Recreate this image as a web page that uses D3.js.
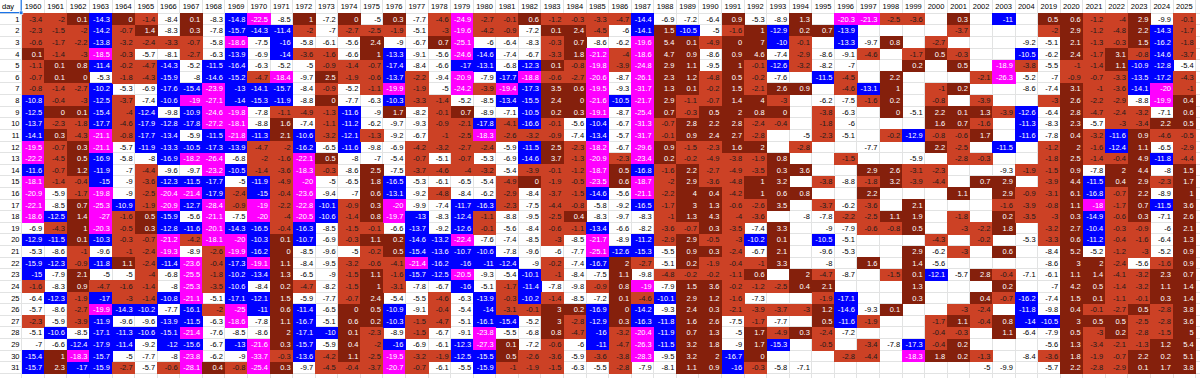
<!DOCTYPE html>
<html><head><meta charset="utf-8">
<script src="https://cdn.jsdelivr.net/npm/d3@7"></script>
<style>html,body{margin:0;padding:0;background:#fff;overflow:hidden}</style>
</head><body><svg id="c" width="1200" height="378"></svg>
<script>
const years = ["1960","1961","1962","1963","1964","1965","1966","1967","1968","1969","1970","1971","1972","1973","1974","1975","1976","1977","1978","1979","1980","1981","1982","1983","1984","1985","1986","1987","1988","1989","1990","1991","1992","1993","1994","1995","1996","1997","1998","1999","2000","2001","2002","2003","2004","2019","2020","2021","2022","2023","2024","2025"];
const days = [1,2,3,4,5,6,7,8,9,10,11,12,13,14,15,16,17,18,19,20,21,22,23,24,25,26,27,28,29,30,31];

const v1960 = [-3.4,-2.3,-0.6,0.1,-1.1,-0.7,-0.8,-10.8,-12.5,-13.7,-14.1,-19.5,-22.2,-11.6,-18.1,-20.9,-22.1,-18.6,-6.9,-12.9,-5.3,-15.9,-15,-1.6,-6.4,-5.7,-2.3,-5.1,-7,-15.4,-15.7];
const v1961 = [-2,-1.5,-1.7,-1.4,0.1,0.1,-1.4,-0.4,0,-2.3,0.3,-0.7,-4.5,-0.7,-1.4,-5.9,-8.5,-12.5,-4.3,-11.5,-8.6,-12.3,-7.9,-8.3,-12.3,-8.6,-5.9,-10.6,-6.6,1,2.3];
const v1962 = [0.1,-2,-2.2,-3,0.8,0,-2.7,-3,0.1,-1.8,-4.3,0.3,0.5,1.2,-0.4,-1.7,0.7,1.4,1,0.1,-1,-0.9,2.1,0.9,-1.9,-2.7,-3.9,-8.5,-12.4,-18.3,-17];
const v1963 = [-14.3,-14.2,-13.8,-18.5,-11.4,-5.3,-10.2,-12.5,-15.4,-17.7,-21.1,-21.1,-16.9,-11.9,-15,-19.8,-25.3,-27,-20.3,-10.3,-9.6,-11.8,-5,-4.7,-17,-19.9,-11.9,-17.1,-17.9,-15.7,-15.9];
const v1964 = [0,-0.7,-3.2,-0.3,-0.2,-1.8,-5.3,-3.7,-4,-4.6,-0.8,-5.7,-5.8,-7,-9,-9,-10.9,-1.6,-0.5,-0.3,-1,1.1,-5,-1.6,-3,-14.3,-9.6,-11.3,-11.4,-5,-2.7];
const v1965 = [-1.4,1.4,-2.4,-5.7,-4.7,-4.3,-6.9,-7.4,-12.4,-17.9,-17.7,-11.9,-8,-4.4,-3.6,-2.5,-1.9,0.5,0.3,-0.7,-2.4,-2.4,-4,-1.4,-1.4,-10.2,-9.6,-10.6,-9.2,-7.7,-5.7];
const v1966 = [-8.4,-8.3,-3.3,-8.1,-14.3,-15.9,-17.6,-10.6,-9.8,-12.8,-13.4,-13.3,-16.9,-9.6,-12.3,-20.4,-20.9,-15.9,-12.8,-21.2,-19.3,-11.4,-6.8,-8,-10.8,-7.7,-13.9,-15.1,-12,-8,-0.6];
const v1967 = [0.1,0.3,-0.7,-2.7,-5.2,-8,-15.4,-19,-10.9,-17.8,-5.9,-10.5,-18.2,-9.7,-11.5,-21.4,-12.7,-5.6,-11.6,-4.2,-8.9,-23.6,-25.5,-25.3,-21.1,-16.1,-11.5,-21.4,-15.6,-23.8,-28.1];
const v1968 = [-8.3,-7.8,-5.8,-6.3,-11.5,-14.6,-23.9,-27.1,-24.6,-27.2,-11.5,-17.3,-26.4,-23.2,-17.7,-17.9,-28.4,-21.1,-20.1,-18.1,-2.6,-0.4,-1.8,-3.5,-5.1,-2,-6.3,-7.6,-6.7,-6.2,0.4];
const v1969 = [-14.8,-15.7,-18.6,-13.9,-16.4,-15.2,-13,-14,-19.8,-18.1,-21.8,-13.9,-6.8,-10.5,-5,-2.4,-0.9,-7.5,-14.3,-20,-19.9,-17.3,-10.2,-10.6,-17.1,-25,-18.6,-8.5,-13,-9,-0.8];
const v1970 = [-22.5,-14.3,-7.5,-6.9,-6.3,-4.7,-14.1,-15.3,-7.8,-8.8,-11.3,-4.7,-2,-1.4,-11.9,-15,-19,-20,-16.5,-10.3,-16.2,-19.1,-13.4,-8.4,-12.1,-11,-7.8,-8.6,-21.6,-33.7,-25.4];
const v1971 = [-8.5,-11.4,-16,-14,-5.2,-18.4,-15.7,-11.9,-1.1,1.6,2.1,-2,-1.6,-3.6,-4.9,-0.4,-2.2,-4,-0.4,0.1,0,1.1,1.3,0.2,1.5,0.6,1.1,2,0.3,-0.3,0.3];
const v1972 = [1,-2,-5.8,-3.6,-5,-9.7,-8.4,-8.8,-4.9,-7.4,-10.6,-16.2,-22.1,-18.3,-20,-23.6,-22.8,-20.5,-16.3,-10.7,-8.5,-8.4,-6.5,-4.7,-5.9,-11.4,-16.7,-17.1,-15.7,-13.6,-9.7];
const v1973 = [-7.2,-7,-6.1,-1.6,-0.9,2.5,-0.9,0,-1.3,-1.1,-3.2,-6.5,0.5,-0.3,-5,-9.4,-10.1,-10.6,-8.5,-6.9,-9.6,-9.5,-9,-8.2,-7.7,-6.5,-5.1,-10,-5.9,-4.2,-4.5];
const v1974 = [0,-2.7,-5.6,-6.6,-1.4,-1.9,-5.2,-7.7,-11.6,-11.2,-12.1,-11.6,-8,-8.6,-6.5,-7,-0.9,-1.4,-1.5,-0.3,-5,-3.2,-1.5,-1.5,-0.7,0,0.6,0.1,0.4,1.1,-0.4];
const v1975 = [-5,-2.5,2.4,1,-0.7,-0.6,-1.1,-6.3,-9,-6.2,-1.3,-9.8,-7,2.5,1.8,0.6,0.3,0.8,-0.1,1.1,-0.2,-0.6,1.1,1,2.4,0.5,0.2,-2.3,-2,-2.5,-3.7];
const v1976 = [0.3,-1.9,-9,-13.3,-17.4,-13.7,-19.9,-10.3,1.7,-9.7,-9.2,-6.9,-5.4,-7.5,-16.5,-13.1,-20,-19.7,-6.6,0.2,0.5,-4.1,-1.6,-3.1,-5.4,-10.9,-10.3,-8.9,-16,-19.5,-20.7];
const v1977 = [-7.7,-5.1,-6.7,-9.1,-8.4,-2.2,-1.9,-3.3,-8.2,-9.3,-6.7,-4.2,-0.7,-3.7,-5.3,-9.2,-9.9,-13,-13.7,-14.6,-15.4,-21.4,-15.7,-7.8,-5.5,-9.1,-1.5,-1.5,-6.9,-3.2,-0.7];
const v1978 = [-4.6,-3,0.7,-5.6,-6.6,-9.4,-5,-1.4,-0.1,-0.9,-1,-3.2,-5.1,-4.6,-6.1,-4.8,-7.4,-8.3,-9.2,-13.2,-13.6,-16.2,-12.5,-6.7,-4.6,-0.4,-4.7,-6.7,-6.1,-1.9,-6.1];
const v1979 = [-24.9,-19.6,-25.1,-24.6,-17,-20.9,-24.2,-5.2,0.7,-2.1,-2.5,-2.7,-0.7,-4,-6.5,-8.4,-11.7,-12.4,-12.6,-22.4,-10.7,-16,-20.5,-16,-6.3,-5.4,-5.1,-9.1,-12.3,-12.5,-5.5];
const v1980 = [-2.7,-4.2,-6,-14.6,-13.1,-7.9,-3.9,-8.5,-8.9,-17.8,-18.3,-2.4,-5.3,-3.2,-5.4,-6.2,-16.3,-1.1,-0.1,-7.6,-10.6,-11,-9.3,-5.1,-13.9,-14,-16.1,-23.8,-27.3,-15.5,-15.9];
const v1981 = [-0.1,-0.9,-6.4,-7.4,-6.8,-17.7,-19.4,-13.4,-7.1,-4.1,-2.6,-5.9,-6.9,-5.4,-4.9,-2.9,-2.3,-8.8,-5.6,-7.4,-7.8,-12.4,-5.4,-1.7,-0.3,-3.1,-15.4,-5.5,0.1,0.5,-1];
const v1982 = [0.6,-7.2,-8.3,-6.7,-12.3,-18.8,-17.3,-15.5,-10.5,-16.6,-3.2,-11.5,-14.6,-3.9,0,-8.4,-7.5,-9.5,-8.4,-8.5,-9.6,-9,-10.1,-11.4,-10.2,-0.1,-5.2,-6.8,-7.2,-2.6,-1.9];
const v1983 = [-1.2,0.1,-0.3,-3.3,0.1,-0.6,3.5,2.4,0.2,-0.1,-0.9,2.5,3.7,-0.1,-1.9,-3.7,-4.4,-2.5,-0.6,-3,-6,-0.2,-1,-7.8,-1.4,3,3,0.8,-0.6,-3.6,-1.5];
const v1984 = [-0.3,2.4,0.7,1.8,-0.8,-2.7,0.6,0,0.3,-5.6,-7.4,-2.3,-1.3,-1.2,-0.5,-1.5,-0.8,0.4,-1.1,-8.5,-7.7,-7.4,-8.4,-9.8,-8.5,0.2,-2.8,-4.7,-6,-5.9,-6.3];
const v1985 = [-3.3,-4.5,-8.6,-21.2,-19.8,-20.6,-19.5,-21.6,-19.1,-10.4,-13.4,-18.2,-20.9,-18.7,-23.5,-14.6,-5.8,-8.3,-13.4,-21.7,-25.1,-16.7,-7.5,-0.9,-7.2,-16.9,-12.9,-16,-11,-3.6,-5.5];
const v1986 = [-4.7,-6,-6.2,-4,-3.9,-8.7,-9.3,-10.5,-8.7,-6.7,-5.7,-6.7,-2.3,0.5,0.6,-5.6,-9.2,-9.7,-6.6,-8.9,-12.6,2,1.1,0.8,0.1,0,0.3,-3.2,-4.7,-3.8,-2.8];
const v1987 = [-14.4,-14.1,-19.6,-18.6,-24.8,-26.1,-31.7,-21.7,-25.4,-31.3,-31.7,-29.6,-23.4,-16.8,-18.7,-21.1,-16.5,-8.3,-8.2,-11.2,-15.3,-2.7,-9.8,-19,-4.6,-14.2,-16.3,-20.4,-26.3,-28.3,-7.9];
const v1988 = [-6.9,1.5,5.4,4.7,2.9,2.3,1.3,2.9,0.7,-0.7,-0.1,0.9,0.2,-1.6,-2,-2.2,-1.7,-1,-3.6,-2.9,-5.5,-5.1,-4.8,-7.9,-10.1,-9.3,-11.8,-11.9,-11.5,-9.5,-8.1];
const v1989 = [-7.2,-10.5,0.1,0.9,1.1,1.2,0.1,-1.1,-0.3,2.8,0.9,-1.5,-0.2,2.2,2.9,4,3,1.3,-0.7,2.9,0.9,0.2,-0.2,1.5,2.9,2.4,1.6,0.7,3.2,3.2,1.1];
const v1990 = [-6.4,-5,-4.9,-8.6,-9.5,-4.8,-0.2,-0.7,0.5,2.2,2.4,-2.3,-4.9,-2.7,-3.6,0.4,1.3,4.3,0.3,-0.5,0.3,-1.9,-0.2,3.6,1.2,0.3,2.6,1.3,1.8,2,0.9];
const v1991 = [0.9,-1.6,0,0.9,1,0.5,1.5,1.4,2,2.8,2.7,1.6,-3.8,-4.9,-4.8,-4.2,-0.6,-4,-3.5,-3,-2.4,-0.4,-1.1,-0.2,-1.6,-2.1,-7.5,-5,-9,-16.7,-16];
const v1992 = [-5.3,1,7,4.6,-0.1,-0.2,-2.1,4,0.8,-2.4,-2.8,2,-1.9,-3.5,1,1,-2.6,-3.6,-7.4,-10.2,-6.7,-1,0.6,-1.2,-7.3,-3.9,-1.7,1.7,1.7,0,-0.3];
const v1993 = [-8.9,-12.9,-10,-7.4,-12.6,-7.6,2.6,-3,0,-0.4,null,null,0.8,0.3,3.2,0.6,3.5,null,3.3,0.1,2.1,3.3,null,-2.5,null,-3.7,-7.7,-4.9,-15.3,null,-5.8];
const v1994 = [1.3,0.2,-0.1,-2.9,-3.2,null,0.9,null,null,null,-5,-2.8,null,3.6,null,0.8,null,-8,null,null,null,null,2,0.4,null,-3,null,0.3,null,null,-7.1];
const v1995 = [null,0.7,null,-8.6,-8.2,-11.5,null,-6.2,-3.8,-1.8,-2.3,null,null,null,-3.8,null,-3.7,-7.8,-9,-10.5,-9.6,-8,-4.7,2.1,-1.9,1.2,0.5,-2.4,-0.5,null,null];
const v1996 = [-20.3,-13.9,-13.3,-9.1,-7,-4.5,-4.6,-7.5,-6.3,-6,-5.1,null,-1.5,null,-8.8,null,-6.2,-2.2,-7.9,-5.1,-5.3,null,-8.7,null,-17.1,-14.6,-11.6,-7.2,null,-2.8,null];
const v1997 = [-21.3,null,-9.7,-4.6,null,null,-13.1,-1.6,null,null,null,-7.7,null,2.9,-1.8,2.2,-3.6,-2.5,-0.6,null,null,1.6,null,null,null,-9.3,-1.9,null,-3.4,-4.4,null];
const v1998 = [-2.5,null,0.8,null,null,2.2,1,0.2,0,null,-0.2,null,null,2.6,3.2,null,null,1.1,-0.8,null,null,null,-1.5,null,null,0.1,null,null,-7.8,null,null];
const v1999 = [-3.6,null,null,-1.7,0.2,null,null,null,-5.1,null,-12.9,null,-5.9,-3.1,-3.9,null,2.1,1.9,0.5,null,2.9,1.4,0.1,1.3,0.3,null,null,null,-17.3,-18.3,null];
const v2000 = [null,null,-2.7,0.5,null,null,-1,-0.8,2.2,1.6,-0.8,2.2,null,-2.3,-4.4,null,null,null,null,-4.3,-6.2,-5.6,-12.1,null,null,null,-1.7,-0.4,-0.4,1.8,null];
const v2001 = [0.3,-3.7,null,-0.3,0.5,null,0.2,null,0.1,0.7,-0.6,-2.5,-2.8,null,null,1.1,null,-1.8,-3,null,-3,null,-5.7,null,null,-3,1.1,-0.3,0.2,0.2,null];
const v2002 = [null,null,null,null,null,-2.1,null,-3.9,1.3,-1.6,1.7,null,-0.3,null,0.7,null,null,null,-2.2,-0.2,null,null,2.8,null,0.4,-2.4,-0.4,null,null,-1.3,-5];
const v2003 = [-11,null,null,null,-18.9,-26.3,null,null,-3.9,null,null,-11.5,null,-9.3,2.9,2.9,-1.6,0.2,1.8,null,0.6,null,-0.4,0.2,-0.7,null,0.8,1.1,null,null,-9.9];
const v2004 = [null,null,-9.2,-10.5,-3.8,-5.2,-8.6,null,-12.6,-11.3,-11.6,null,null,-1.9,null,-0.9,-3.9,-3.5,null,-5.3,null,null,-7.1,null,-16.2,-11.8,-14,-6.4,null,-8.4,null];
const v2019 = [0.5,-2,-5.1,-6.2,-5.5,-7,-7.4,-3,-6.4,-8.3,-7.8,-1.2,-1.8,-1.5,-3.9,-3.1,-0.8,-3,-3.2,-3.3,-8.4,-8.6,-6.1,-7,-7.4,-9.8,-10.5,-7.9,-5.6,-3.6,-5.7];
const v2020 = [0.6,2.9,2.1,2.4,-1,-0.9,3.1,2.6,2.8,2.3,0.4,2,2.5,0.9,4.4,6.1,1.1,0.3,2.7,0.6,5.2,3,1.1,4.2,1.5,0.4,3,0.5,1.3,1.8,2.2];
const v2021 = [-1.2,-1.2,-1.3,-1.7,-1.4,-0.7,-1,-2.2,-4.7,-5.7,-3.2,-1.6,-1.4,-7.8,-11.5,-16.8,-18,-14.9,-10.4,-11.2,-5.2,2,1.4,0.5,0.1,-0.1,0.5,-3,-3.4,-1.9,-2.8];
const v2022 = [-4,-4.8,-0.3,3.1,1.1,-3.3,-3.6,-2.9,-2.4,-3,-11.6,-12.4,-0.4,2,0.4,-0.7,-1.7,-0.6,-0.3,-0.4,-1.2,-2.4,-4.1,-1.4,-1.1,-2.7,0.5,0.2,-2.1,-0.7,-2.9];
const v2023 = [2.9,2.2,1.5,-0.8,-10.9,-13.5,-14.1,-8.8,-3.2,-3.4,0.9,1.1,4.9,4.4,2.9,2.2,0.7,0.3,-0.9,-1.6,-3,-5.6,-3.2,-3.2,-0.1,0.5,-2.5,-2.8,-1.3,2.2,0.1];
const v2024 = [-9.9,-14.3,-16.2,-14.6,-12.8,-17.2,-20,-19.9,-7.1,2.2,-4.6,-6.5,-11.8,-8,-2.3,-8.9,-11.5,-7.1,-6,-6.4,-5.2,-1.6,2.3,1.1,0.3,-2.8,-2.8,-1.5,1.2,0.2,1.7];
const v2025 = [-0.1,-1.7,-1.8,-3.7,-5.4,-4.3,-1,0.4,0.6,0.5,-0.5,-2.9,-4.4,1.5,1.7,1,3.6,2.6,2.1,1.3,0.9,0.9,0.7,1.4,1.4,3.8,3.6,5,5.4,5.1,3.8];

const series = [v1960,v1961,v1962,v1963,v1964,v1965,v1966,v1967,v1968,v1969,v1970,v1971,v1972,v1973,v1974,v1975,v1976,v1977,v1978,v1979,v1980,v1981,v1982,v1983,v1984,v1985,v1986,v1987,v1988,v1989,v1990,v1991,v1992,v1993,v1994,v1995,v1996,v1997,v1998,v1999,v2000,v2001,v2002,v2003,v2004,v2019,v2020,v2021,v2022,v2023,v2024,v2025];

// colour bands: <= -18 magenta, <= -10 blue, <= -5 white, < 0 red, >= 0 dark red
const bandLimits = [-17.95, -9.95, -4.95, 0];

const W = 1200, H = 378;
const svg = d3.select("#c");
const font = "'Liberation Sans', Arial, sans-serif";

const fill = d3.scaleThreshold().domain(bandLimits).range(["#ff00ff","#0000ff","#ffffff","#cc4125","#85200c"]);
const ink = d3.scaleThreshold().domain(bandLimits).range(["#ffffff","#ffffff","#000000","#1c1c1c","#ffffff"]);

const x = d3.scaleBand().domain(years).range([21.7, 1195.6]).padding(0);
const y = d3.scaleBand().domain(days).range([13.2, 373.4]).padding(0);
const bw = x.bandwidth(), bh = y.bandwidth();

const cells = [];
years.forEach((yr, i) => days.forEach((d, j) => {
  const v = series[i][j];
  if (v !== null && v !== undefined) cells.push({yr, d, v});
}));

// grid lines
const grid = svg.append("g").attr("stroke", "#e2e3e3").attr("stroke-width", 1).attr("shape-rendering", "crispEdges");
const xEdges = years.map(yr => x(yr)).concat([x.range()[1], x.range()[1] + bw]);
grid.selectAll("line.v").data(xEdges).join("line")
  .attr("x1", d => d).attr("x2", d => d).attr("y1", 0).attr("y2", H);
const yEdges = [y.range()[0]].concat(days.map(d => y(d) + bh));
grid.selectAll("line.h").data(yEdges).join("line")
  .attr("x1", 0).attr("x2", W).attr("y1", d => d).attr("y2", d => d);

// coloured cells
svg.append("g").attr("shape-rendering", "crispEdges")
  .selectAll("rect").data(cells.filter(c => fill(c.v) !== "#ffffff")).join("rect")
  .attr("x", c => x(c.yr)).attr("y", c => y(c.d))
  .attr("width", bw + 0.6).attr("height", bh + 0.6)
  .attr("fill", c => fill(c.v));

// cell values
svg.append("g").attr("font-family", font).attr("font-size", 7.5).attr("text-anchor", "end")
  .selectAll("text").data(cells).join("text")
  .attr("x", c => x(c.yr) + bw - 2)
  .attr("y", c => y(c.d) + bh / 2 + 2.7)
  .attr("fill", c => ink(c.v))
  .text(c => String(c.v));

// header years
svg.append("g").attr("font-family", font).attr("font-size", 7.5).attr("text-anchor", "middle").attr("fill", "#000")
  .selectAll("text").data(years).join("text")
  .attr("x", yr => x(yr) + bw / 2).attr("y", 9.4).text(yr => yr);

// day labels
svg.append("g").attr("font-family", font).attr("font-size", 7.5).attr("text-anchor", "end").attr("fill", "#000")
  .selectAll("text").data(days).join("text")
  .attr("x", 19.5).attr("y", d => y(d) + bh / 2 + 2.7).text(d => d);

svg.append("text").attr("font-family", font).attr("font-size", 7.5).attr("x", 2).attr("y", 9.4).attr("fill", "#000").text("day");

// selected-cell outline
const sel = svg.append("g");
sel.append("line").attr("x1", 0).attr("x2", 21.7).attr("y1", 12.6).attr("y2", 12.6).attr("stroke", "#1a73e8").attr("stroke-width", 1.2);
sel.append("line").attr("x1", 21.2).attr("x2", 21.2).attr("y1", 0).attr("y2", 12.6).attr("stroke", "#1a73e8").attr("stroke-width", 1.2);
sel.append("rect").attr("x", 19.5).attr("y", 11).attr("width", 3.4).attr("height", 3.4).attr("fill", "#1a73e8").attr("stroke", "#fff").attr("stroke-width", 0.6);
</script>
</body></html>
